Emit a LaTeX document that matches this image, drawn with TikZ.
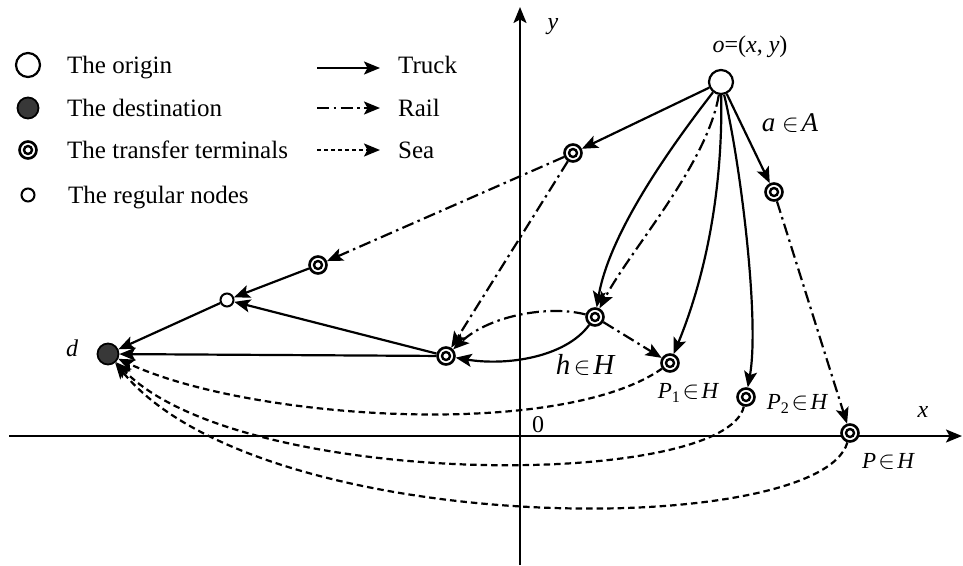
\documentclass[tikz,border=0pt]{standalone}
\usepackage{fontspec}
\setmainfont{Liberation Serif}
\usetikzlibrary{arrows.meta}
\begin{document}
\begin{tikzpicture}[x=1pt,y=-1pt,
  every node/.style={inner sep=0pt},
  lw/.style={line width=2.2pt},
  arrowtip/.style={-{Stealth[length=16pt,width=13pt,inset=3.5pt]}},
  truck/.style={lw,arrowtip},
  rail/.style={lw,arrowtip,dash pattern=on 12pt off 4.5pt on 2.5pt off 4.5pt},
  sea/.style={lw,arrowtip,dash pattern=on 6.5pt off 4pt},
  orig/.style={circle,draw,fill=white,line width=2.2pt,minimum size=24pt},
  dest/.style={circle,draw,fill=black!78,line width=1.8pt,minimum size=21pt},
  term/.style={circle,draw,fill=white,line width=2.6pt,minimum size=17pt,
    path picture={\draw[line width=2.4pt] (path picture bounding box.center) circle (4pt);}},
  reg/.style={circle,draw,fill=white,line width=2pt,minimum size=13pt},
  lbl/.style={font=\fontsize{25}{30}\selectfont, anchor=base west},
  ]
\useasboundingbox (0,0) rectangle (963,565);

% axes
\coordinate (xs) at (9,436);
\coordinate (xe) at (962,436);
\coordinate (ys) at (520,565);
\coordinate (ye) at (520,7);
\draw[lw,arrowtip] (xs) -- (xe);
\draw[lw,arrowtip] (ys) -- (ye);

% nodes
\node[orig] (o) at (721,82) {};
\node[term] (T1) at (573,153) {};
\node[term] (Ta) at (774,192) {};
\node[term] (T3) at (318,265) {};
\node[reg] (R) at (227,300) {};
\node[dest] (d) at (108,354) {};
\node[term] (T4) at (446,356) {};
\node[term] (h) at (595,317) {};
\node[term] (P1) at (670,363) {};
\node[term] (P2) at (746,397) {};
\node[term] (P) at (850,433) {};

% truck
\draw[truck] (o) -- (T1);
\draw[truck] (o) .. controls (676,140) and (610,230) .. (h);
\draw[truck] (o) .. controls (723,200) and (702,285) .. (P1);
\draw[truck] (o) .. controls (740,160) and (760,320) .. (P2);
\draw[truck] (o) -- (Ta);
\draw[truck] (T3) -- (R);
\draw[truck] (R) -- (d);
\draw[truck] (T4) -- (R);
\draw[truck] (T4) -- (d);
\draw[truck] (h) .. controls (565,358) and (505,366) .. (T4);

% rail
\draw[rail] (T1) -- (T3);
\draw[rail] (T1) -- (T4);
\draw[rail] (o) .. controls (707,165) and (630,250) .. (h);
\draw[rail] (h) -- (P1);
\draw[rail] (h) .. controls (550,305) and (490,315) .. (T4);
\draw[rail] (Ta) -- (P);

% sea
\draw[sea] (P1) .. controls (560,440) and (250,420) .. (d);
\draw[sea] (P2) .. controls (725,490) and (240,490) .. (d);
\draw[sea] (P) .. controls (820,540) and (260,540) .. (d);

% labels
\node[font=\fontsize{24}{28}\selectfont] (lo) at (750,47) {{\itshape o}=({\itshape x}, {\itshape y})};
\node[font=\fontsize{27}{30}\selectfont] (la) at (790,123) {{\itshape a}\hspace{0.25em}$\in$\hspace{0.1em}{\itshape A}};
\node[font=\fontsize{29}{32}\selectfont] (lh) at (585,365) {{\itshape h}\hspace{0.12em}$\in$\hspace{0.1em}{\itshape H}};
\node[font=\fontsize{23}{26}\selectfont] (lp1) at (688,393) {{\itshape P}\textsubscript{1}\hspace{0.1em}$\in$\hspace{0.1em}{\itshape H}};
\node[font=\fontsize{23}{26}\selectfont] (lp2) at (797,404) {{\itshape P}\textsubscript{2}\hspace{0.1em}$\in$\hspace{0.1em}{\itshape H}};
\node[font=\fontsize{23}{26}\selectfont] (lp) at (888,461) {{\itshape P}\hspace{0.1em}$\in$\hspace{0.1em}{\itshape H}};
\node[font=\fontsize{24}{28}\selectfont] (lx) at (923,412) {\itshape x};
\node[font=\fontsize{24}{28}\selectfont] (ly) at (553,27) {\itshape y};
\node[font=\fontsize{24}{28}\selectfont] (l0) at (538,425) {0};
\node[font=\fontsize{24}{28}\selectfont] (ld) at (72,348) {\itshape d};

% legend
\node[orig] (k1) at (28,65) {};
\node[dest] (k2) at (28,108) {};
\node[term] (k3) at (28,150) {};
\node[reg] (k4) at (28,195) {};
\node[lbl] (t1) at (67,73) {The origin};
\node[lbl] (t2) at (67,116) {The destination};
\node[lbl] (t3) at (67,158) {The transfer terminals};
\node[lbl] (t4) at (68,203) {The regular nodes};
\coordinate (a1s) at (317,68); \coordinate (a1e) at (380,68);
\coordinate (a2s) at (317,108); \coordinate (a2e) at (380,108);
\coordinate (a3s) at (317,150); \coordinate (a3e) at (380,150);
\draw[truck] (a1s) -- (a1e);
\draw[rail] (a2s) -- (a2e);
\draw[lw,arrowtip,dash pattern=on 4pt off 3pt] (a3s) -- (a3e);
\node[lbl] (t5) at (398,73) {Truck};
\node[lbl] (t6) at (398,116) {Rail};
\node[lbl] (t7) at (398,158) {Sea};
\end{tikzpicture}
\end{document}
